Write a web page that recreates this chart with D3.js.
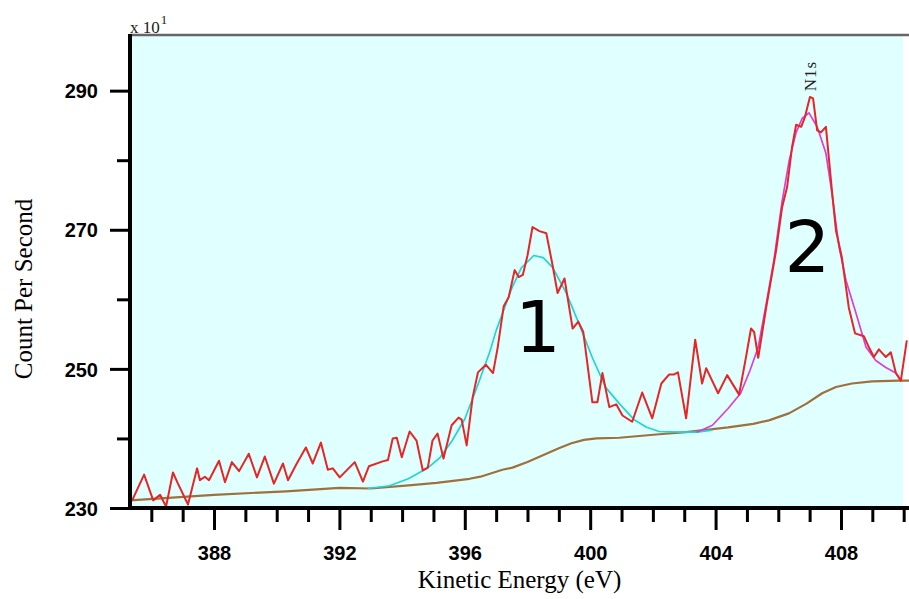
<!DOCTYPE html>
<html>
<head>
<meta charset="utf-8">
<script src="https://d3js.org/d3.v7.min.js"></script>
<style>
  body { margin: 0; background: #ffffff; }
  svg { display: block; }
</style>
</head>
<body>
<div id="chart"></div>
<script>
// raw counts (red): [kinetic energy eV, counts x10]
const rawEnergy = [385.32, 385.4, 385.77, 386.06, 386.28, 386.47, 386.69, 386.85, 387.17, 387.46,
  387.55, 387.71, 387.84, 388.16, 388.35, 388.57, 388.8, 389.11, 389.37, 389.62,
  389.91, 390.2, 390.36, 390.64, 390.93, 391.15, 391.41, 391.63, 391.79, 392.01,
  392.49, 392.75, 392.94, 393.38, 393.55, 393.7, 393.83, 393.99, 394.24, 394.46,
  394.66, 394.82, 394.97, 395.13, 395.32, 395.58, 395.8, 395.9, 396.06, 396.25,
  396.42, 396.67, 396.9, 397.05, 397.24, 397.4, 397.59, 397.72, 397.85, 398.0,
  398.16, 398.38, 398.6, 398.8, 398.96, 399.18, 399.44, 399.62, 399.78, 400.07,
  400.23, 400.39, 400.61, 400.83, 401.03, 401.34, 401.66, 401.98, 402.27, 402.52,
  402.68, 402.8, 403.06, 403.35, 403.57, 403.7, 404.08, 404.37, 404.75, 404.97,
  405.13, 405.23, 405.36, 405.61, 405.93, 406.12, 406.28, 406.44, 406.57, 406.73,
  406.85, 407.01, 407.11, 407.24, 407.36, 407.52, 407.71, 407.84, 408.03, 408.25,
  408.45, 408.73, 408.89, 409.05, 409.21, 409.43, 409.59, 409.75, 409.91, 410.1];
const rawCounts = [231.0, 231.2, 234.8, 231.1, 231.9, 230.2, 235.1, 233.5, 230.5, 235.7,
  234.0, 234.5, 234.0, 236.8, 233.7, 236.6, 235.3, 237.8, 234.4, 237.4,
  233.5, 236.4, 234.0, 236.4, 238.7, 236.4, 239.4, 235.5, 235.7, 234.4,
  236.6, 233.8, 236.0, 236.7, 236.9, 240.0, 240.1, 237.3, 241.0, 239.7,
  235.4, 235.8, 239.7, 240.7, 237.1, 241.9, 243.0, 242.7, 239.0, 245.9,
  249.5, 250.6, 249.4, 253.1, 259.0, 260.3, 264.2, 263.2, 263.5, 266.3,
  270.4, 269.8, 269.5, 264.9, 260.9, 263.0, 255.8, 256.8, 255.3, 245.2,
  245.2, 249.4, 244.5, 244.9, 243.3, 242.4, 246.6, 242.9, 247.9, 249.2,
  249.2, 249.5, 242.9, 254.2, 247.9, 250.1, 246.5, 249.1, 246.3, 251.7,
  255.8, 255.3, 251.6, 258.7, 267.0, 273.2, 276.1, 281.9, 285.1, 284.8,
  286.2, 289.1, 288.9, 284.3, 284.0, 284.8, 275.7, 269.9, 266.0, 258.8,
  255.1, 254.7, 253.1, 251.7, 252.8, 251.7, 252.4, 249.4, 248.3, 254.1];

// fitted component 1 (cyan)
const fit1Energy = [392.9, 393.6, 394.2, 394.8, 395.2, 395.6, 396.0, 396.4, 396.8, 397.0,
  397.5, 397.8, 398.2, 398.5, 398.8, 399.24, 399.66, 400.07, 400.5, 400.93,
  401.4, 401.8, 402.2, 402.9, 403.4, 403.9];
const fit1Counts = [232.8, 233.2, 234.2, 235.7, 237.2, 239.7, 242.8, 247.5, 252.5, 255.5,
  261.6, 264.5, 266.3, 266.0, 264.6, 260.9, 256.3, 251.6, 247.3, 245.0,
  242.7, 241.6, 241.0, 240.9, 240.9, 241.2];

// fitted component 2 (magenta)
const fit2Energy = [403.4, 403.9, 404.4, 404.8, 405.1, 405.36, 405.62, 405.86, 406.12, 406.35,
  406.57, 406.76, 406.98, 407.24, 407.52, 407.71, 407.94, 408.16, 408.48, 408.8,
  409.11, 409.43, 409.75, 409.91];
const fit2Counts = [240.9, 241.9, 244.3, 246.5, 249.8, 253.1, 259.5, 265.6, 274.0, 280.0,
  284.0, 286.0, 286.8, 284.8, 281.0, 275.3, 267.5, 262.7, 258.0, 253.1,
  251.2, 250.2, 249.4, 248.4];

// background (brown)
const bgEnergy = [385.32, 388.0, 390.3, 392.0, 393.0, 394.3, 395.1, 396.15, 396.5, 397.2,
  397.52, 398.0, 398.6, 399.0, 399.4, 399.8, 400.2, 400.93, 402.2, 403.06,
  404.4, 405.2, 405.7, 406.34, 406.9, 407.4, 407.84, 408.35, 408.99, 409.85, 410.17];
const bgCounts = [231.1, 231.9, 232.4, 232.9, 232.8, 233.3, 233.6, 234.2, 234.5, 235.5,
  235.8, 236.6, 237.8, 238.6, 239.3, 239.8, 240.0, 240.1, 240.6, 240.9,
  241.6, 242.1, 242.6, 243.6, 245.0, 246.5, 247.4, 247.9, 248.2, 248.3, 248.3];

const xMajorTicks = [388, 392, 396, 400, 404, 408];
const xMinorTicks = [386, 387, 389, 390, 391, 393, 394, 395, 397, 398, 399, 401, 402, 403, 405, 406, 407, 409, 410];
const yMajorTicks = [230, 250, 270, 290];
const yMinorTicks = [240, 260, 280];

const peakLabels = [
  { text: '1', energy: 398.33, counts: 252.4 },
  { text: '2', energy: 406.93, counts: 264.0 }
];

const width = 909, height = 599;
const plotL = 130, plotR = 909, plotT = 35, plotB = 508;

const svg = d3.select('#chart').append('svg')
  .attr('width', width)
  .attr('height', height);

const x = d3.scaleLinear().domain([385.32, 410.17]).range([plotL, plotR]);
const y = d3.scaleLinear().domain([230, 298]).range([plotB, plotT]);

// plot background
svg.append('rect')
  .attr('x', plotL).attr('y', plotT)
  .attr('width', 903 - plotL).attr('height', plotB - plotT)
  .attr('fill', '#e0ffff');

// top border
svg.append('line')
  .attr('x1', plotL).attr('x2', plotR)
  .attr('y1', plotT).attr('y2', plotT)
  .attr('stroke', '#666').attr('stroke-width', 2.5);

svg.append('clipPath').attr('id', 'plotclip')
  .append('rect').attr('x', plotL).attr('y', plotT)
  .attr('width', plotR - plotL).attr('height', plotB - plotT);

const plot = svg.append('g').attr('clip-path', 'url(#plotclip)');

function drawLine(ex, cy, color, w) {
  const pts = ex.map((e, i) => [e, cy[i]]);
  plot.append('path')
    .datum(pts)
    .attr('fill', 'none')
    .attr('stroke', color)
    .attr('stroke-width', w)
    .attr('stroke-linejoin', 'round')
    .attr('d', d3.line().x(d => x(d[0])).y(d => y(d[1])));
}

drawLine(bgEnergy, bgCounts, '#a0703c', 2.2);
drawLine(fit1Energy, fit1Counts, '#22d4d4', 1.7);
drawLine(fit2Energy, fit2Counts, '#d83ee0', 1.7);
drawLine(rawEnergy, rawCounts, '#e82424', 2);

// x axis: minor then major
const xMinor = svg.append('g')
  .attr('transform', `translate(0,${plotB})`)
  .call(d3.axisBottom(x).tickValues(xMinorTicks).tickSize(14).tickFormat(''));
const xMajor = svg.append('g')
  .attr('transform', `translate(0,${plotB})`)
  .call(d3.axisBottom(x).tickValues(xMajorTicks).tickSize(22).tickFormat(d3.format('d')));
[xMinor, xMajor].forEach(g => {
  g.select('.domain').remove();
  g.selectAll('.tick line').attr('stroke', '#000').attr('stroke-width', 3);
});
xMajor.selectAll('.tick text')
  .attr('y', 52).attr('dy', 0)
  .attr('fill', '#000')
  .style('font-family', '"Liberation Sans", Arial, sans-serif')
  .style('font-size', '20px')
  .style('font-weight', 'bold');

// y axis
const yMinor = svg.append('g')
  .attr('transform', `translate(${plotL},0)`)
  .call(d3.axisLeft(y).tickValues(yMinorTicks).tickSize(13).tickFormat(''));
const yMajor = svg.append('g')
  .attr('transform', `translate(${plotL},0)`)
  .call(d3.axisLeft(y).tickValues(yMajorTicks).tickSize(20).tickPadding(12).tickFormat(d3.format('d')));
[yMinor, yMajor].forEach(g => {
  g.select('.domain').remove();
  g.selectAll('.tick line').attr('stroke', '#000').attr('stroke-width', 3);
});
yMajor.selectAll('.tick text')
  .attr('fill', '#000')
  .attr('dy', '0.36em')
  .style('font-family', '"Liberation Sans", Arial, sans-serif')
  .style('font-size', '20px')
  .style('font-weight', 'bold');

// axis lines
svg.append('line')
  .attr('x1', plotL).attr('x2', plotL)
  .attr('y1', plotT - 1).attr('y2', plotB + 2)
  .attr('stroke', '#000').attr('stroke-width', 4);
svg.append('line')
  .attr('x1', plotL - 2).attr('x2', plotR)
  .attr('y1', plotB).attr('y2', plotB)
  .attr('stroke', '#000').attr('stroke-width', 4);

// exponent note
const note = svg.append('text')
  .attr('x', plotL).attr('y', 33)
  .style('font-family', '"Liberation Serif", "Times New Roman", serif')
  .style('font-size', '17px')
  .attr('fill', '#222');
note.append('tspan').text('x 10');
note.append('tspan').attr('dx', 1).attr('dy', -9).style('font-size', '13px').text('1');

// axis titles
svg.append('text')
  .attr('x', (plotL + plotR) / 2).attr('y', 588)
  .attr('text-anchor', 'middle')
  .style('font-family', '"Liberation Serif", "Times New Roman", serif')
  .style('font-size', '25px')
  .text('Kinetic Energy (eV)');
svg.append('text')
  .attr('transform', 'translate(32,289) rotate(-90)')
  .attr('text-anchor', 'middle')
  .style('font-family', '"Liberation Serif", "Times New Roman", serif')
  .style('font-size', '25px')
  .text('Count Per Second');

// N1s marker
svg.append('text')
  .attr('transform', `translate(${x(407.0) + 6},76) rotate(-90)`)
  .attr('text-anchor', 'middle')
  .style('font-family', '"Liberation Serif", "Times New Roman", serif')
  .style('font-size', '17px')
  .style('letter-spacing', '1px')
  .attr('fill', '#222')
  .text('N1s');

// peak numbers
svg.selectAll('.peaklabel')
  .data(peakLabels)
  .enter().append('text')
  .attr('class', 'peaklabel')
  .attr('x', d => x(d.energy))
  .attr('y', d => y(d.counts))
  .attr('text-anchor', 'middle')
  .style('font-family', '"DejaVu Sans", sans-serif')
  .style('font-size', '72px')
  .text(d => d.text);
</script>
</body>
</html>
